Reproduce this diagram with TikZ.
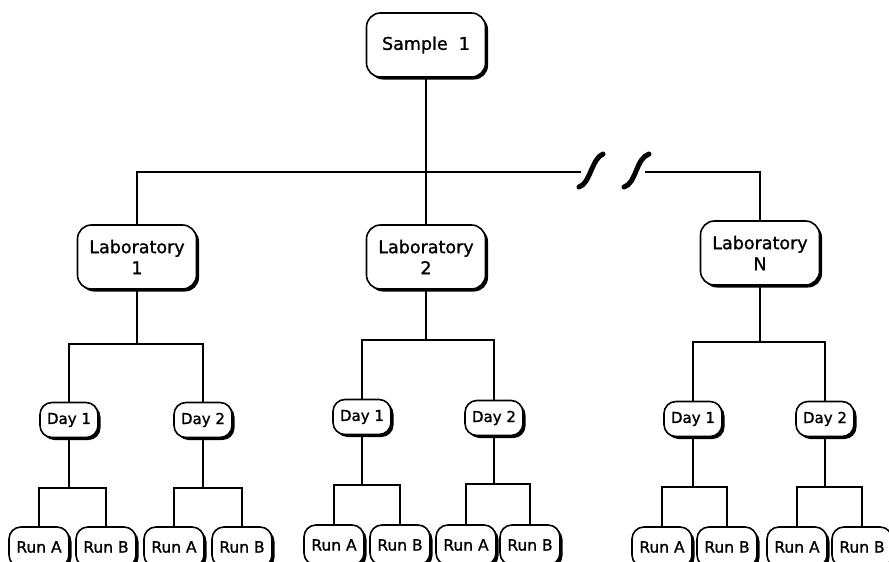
\documentclass[tikz,border=0pt]{standalone}
\usepackage{fontspec}
\setmainfont{DejaVu Sans}[FakeBold=1.2]
\usetikzlibrary{shadows}
\tikzset{
  x=1pt, y=-1pt,
  boxshadow/.style={drop shadow={shadow xshift=2.5pt, shadow yshift=-2.5pt, fill=black, opacity=1}},
  bigbox/.style={draw, line width=1.6pt, fill=white, rounded corners=14pt, boxshadow,
    minimum width=119pt, minimum height=64pt, inner sep=0pt, align=center,
    font=\fontsize{17.5}{21}\selectfont},
  daybox/.style={draw, line width=1.6pt, fill=white, rounded corners=12pt, boxshadow,
    minimum width=58pt, minimum height=35pt, inner sep=0pt,
    font=\fontsize{15}{17}\selectfont},
  runbox/.style={draw, line width=1.6pt, fill=white, rounded corners=12pt, boxshadow,
    minimum width=60pt, minimum height=40pt, inner sep=0pt,
    font=\fontsize{15.5}{18}\selectfont},
  conn/.style={line width=2.4pt, line join=miter, line cap=rect},
  brk/.style={line width=5pt, line cap=round}
}
\newcommand\myfork[4]{%
  \coordinate (#1bus) at (0,#4);
  \draw[conn] (#1.south) -- (#1.south |- #1bus);
  \draw[conn] (#2.north) -- (#2.north |- #1bus) -- (#3.north |- #1bus) -- (#3.north);
}
\begin{document}
\begin{tikzpicture}
\useasboundingbox (0,0) rectangle (889,562);
\clip (0,0) rectangle (889,562);
\fill[white] (0,0) rectangle (889,562);

% top
\node[bigbox] (s) at (426,45) {Sample\ \ 1};

% laboratories
\node[bigbox] (l1) at (137,257) {Laboratory\\1};
\node[bigbox] (l2) at (426,257) {Laboratory\\2};
\node[bigbox] (lN) at (760,253) {Laboratory\\N};

% days
\node[daybox] (l1d1) at (69,420) {Day 1};
\node[daybox] (l1d2) at (203,420) {Day 2};
\node[daybox] (l2d1) at (362,417) {Day 1};
\node[daybox] (l2d2) at (494,418) {Day 2};
\node[daybox] (lNd1) at (693,419) {Day 1};
\node[daybox] (lNd2) at (825,419) {Day 2};

% runs
\node[runbox] (r11a) at (39,547) {Run A};
\node[runbox] (r11b) at (106,547) {Run B};
\node[runbox] (r12a) at (174,547) {Run A};
\node[runbox] (r12b) at (242,547) {Run B};
\node[runbox] (r21a) at (334,545) {Run A};
\node[runbox] (r21b) at (400,545) {Run B};
\node[runbox] (r22a) at (466,545) {Run A};
\node[runbox] (r22b) at (530,545) {Run B};
\node[runbox] (rN1a) at (662,547) {Run A};
\node[runbox] (rN1b) at (727,547) {Run B};
\node[runbox] (rN2a) at (797,547) {Run A};
\node[runbox] (rN2b) at (862,547) {Run B};

% main bus with break
\coordinate (bus) at (0,172);
\coordinate (brkL) at (580,172);
\coordinate (brkR) at (646,172);
\draw[conn] (s.south) -- (s.south |- bus);
\draw[conn] (l1.north) -- (l1.north |- bus) -- (brkL);
\draw[conn] (l2.north) -- (l2.north |- bus);
\draw[conn] (brkR) -- (lN.north |- bus) -- (lN.north);
\draw[brk] (579,187) .. controls (590,184) and (592,158) .. (603,154);
\draw[brk] (624,187) .. controls (636,184) and (636,158) .. (649,154);

% lab forks
\myfork{l1}{l1d1}{l1d2}{344}
\myfork{l2}{l2d1}{l2d2}{340}
\myfork{lN}{lNd1}{lNd2}{342}

% day forks
\myfork{l1d1}{r11a}{r11b}{488}
\myfork{l1d2}{r12a}{r12b}{488}
\myfork{l2d1}{r21a}{r21b}{485}
\myfork{l2d2}{r22a}{r22b}{484}
\myfork{lNd1}{rN1a}{rN1b}{487}
\myfork{lNd2}{rN2a}{rN2b}{487}
\end{tikzpicture}
\end{document}
